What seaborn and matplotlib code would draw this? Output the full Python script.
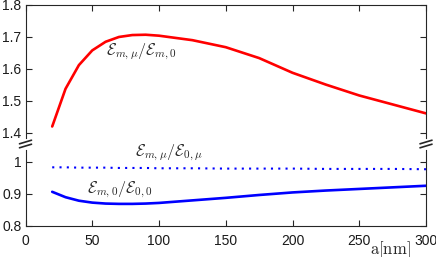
"""Broken y-axis line chart: field ratios vs particle size a[nm]."""

import matplotlib
matplotlib.use("Agg")
import matplotlib.pyplot as plt
from matplotlib.lines import Line2D
import seaborn as sns

# --- data ---
a_nm = [20, 30, 40, 50, 60, 70, 80, 90, 100, 125, 150, 175, 200, 225, 250, 275, 300]
ratio_mu_m0 = [1.420, 1.538, 1.612, 1.658, 1.685, 1.700, 1.706, 1.707, 1.704,
               1.690, 1.668, 1.634, 1.588, 1.551, 1.517, 1.489, 1.461]
ratio_mu_0mu = [0.983, 0.983, 0.982, 0.982, 0.982, 0.981, 0.981, 0.981, 0.980,
                0.980, 0.979, 0.979, 0.979, 0.978, 0.978, 0.978, 0.977]
ratio_m0_00 = [0.906, 0.889, 0.878, 0.872, 0.869, 0.868, 0.868, 0.869, 0.871,
               0.879, 0.887, 0.896, 0.904, 0.910, 0.915, 0.920, 0.925]

x_ticks = [0, 50, 100, 150, 200, 250, 300]
top_yticks = [1.4, 1.5, 1.6, 1.7, 1.8]
top_ylabels = ["1.4", "1.5", "1.6", "1.7", "1.8"]
bot_yticks = [0.8, 0.9, 1.0]
bot_ylabels = ["0.8", "0.9", "1"]

sns.set_style("white")
plt.rcParams["font.family"] = ["Liberation Sans", "DejaVu Sans"]
plt.rcParams["mathtext.fontset"] = "cm"

W, H = 436, 257
fig = plt.figure(figsize=(W / 100, H / 100), dpi=100)


def px_box(left, top, right, bottom):
    return [left / W, 1 - bottom / H, (right - left) / W, (bottom - top) / H]


ax_top = fig.add_axes(px_box(25.5, 5, 426, 138))
ax_bot = fig.add_axes(px_box(25.5, 150, 426, 225.5))

axis_col = "#262626"
for ax in (ax_top, ax_bot):
    ax.set_xlim(0, 300)
    ax.set_xticks(x_ticks)
    for s in ax.spines.values():
        s.set_color(axis_col)
        s.set_linewidth(0.8)
    ax.tick_params(direction="in", length=4, width=0.8, color=axis_col,
                   labelcolor="#1a1a1a", labelsize=10, left=True, right=True)

# top panel
sns.lineplot(x=a_nm, y=ratio_mu_m0, ax=ax_top, color="#ff0000", linewidth=1.9)
ax_top.set_ylim(1.384, 1.8)
ax_top.set_yticks(top_yticks)
ax_top.set_yticklabels(top_ylabels)
ax_top.spines["bottom"].set_visible(False)
ax_top.tick_params(axis="x", bottom=False, top=True, labelbottom=False)
ax_top.tick_params(axis="y", pad=3)
ax_top.text(60, 1.653, r"$\mathcal{E}_{m,\mu}/\mathcal{E}_{m,0}$",
            fontsize=11.5, ha="left", va="center")

# bottom panel
sns.lineplot(x=a_nm, y=ratio_mu_0mu, ax=ax_bot, color="#0000ff", linewidth=1.5,
             linestyle=(0, (1, 2.5)))
sns.lineplot(x=a_nm, y=ratio_m0_00, ax=ax_bot, color="#0000ff", linewidth=1.9)
ax_bot.set_ylim(0.8, 1.0375)
ax_bot.set_yticks(bot_yticks)
ax_bot.set_yticklabels(bot_ylabels)
ax_bot.spines["top"].set_visible(False)
ax_bot.tick_params(axis="x", top=False, bottom=True, pad=6)
ax_bot.tick_params(axis="y", pad=3)
ax_bot.text(82, 1.028, r"$\mathcal{E}_{m,\mu}/\mathcal{E}_{0,\mu}$",
            fontsize=11.5, ha="left", va="center")
ax_bot.text(46, 0.913, r"$\mathcal{E}_{m,0}/\mathcal{E}_{0,0}$",
            fontsize=11.5, ha="left", va="center")

for ax in (ax_top, ax_bot):
    ax.set_xlabel("")
    ax.set_ylabel("")

# axis-break marks
for xc in (25.5, 426):
    for yc in (142, 146):
        fig.add_artist(Line2D([(xc - 6) / W, (xc + 6) / W],
                              [1 - (yc + 1.8) / H, 1 - (yc - 1.8) / H],
                              color=axis_col, linewidth=1.2))

fig.text(390 / W, 1 - 250 / H, r"$\mathrm{a[nm]}$", fontsize=12,
         ha="center", va="center")

fig.savefig("out.png", dpi=100)
